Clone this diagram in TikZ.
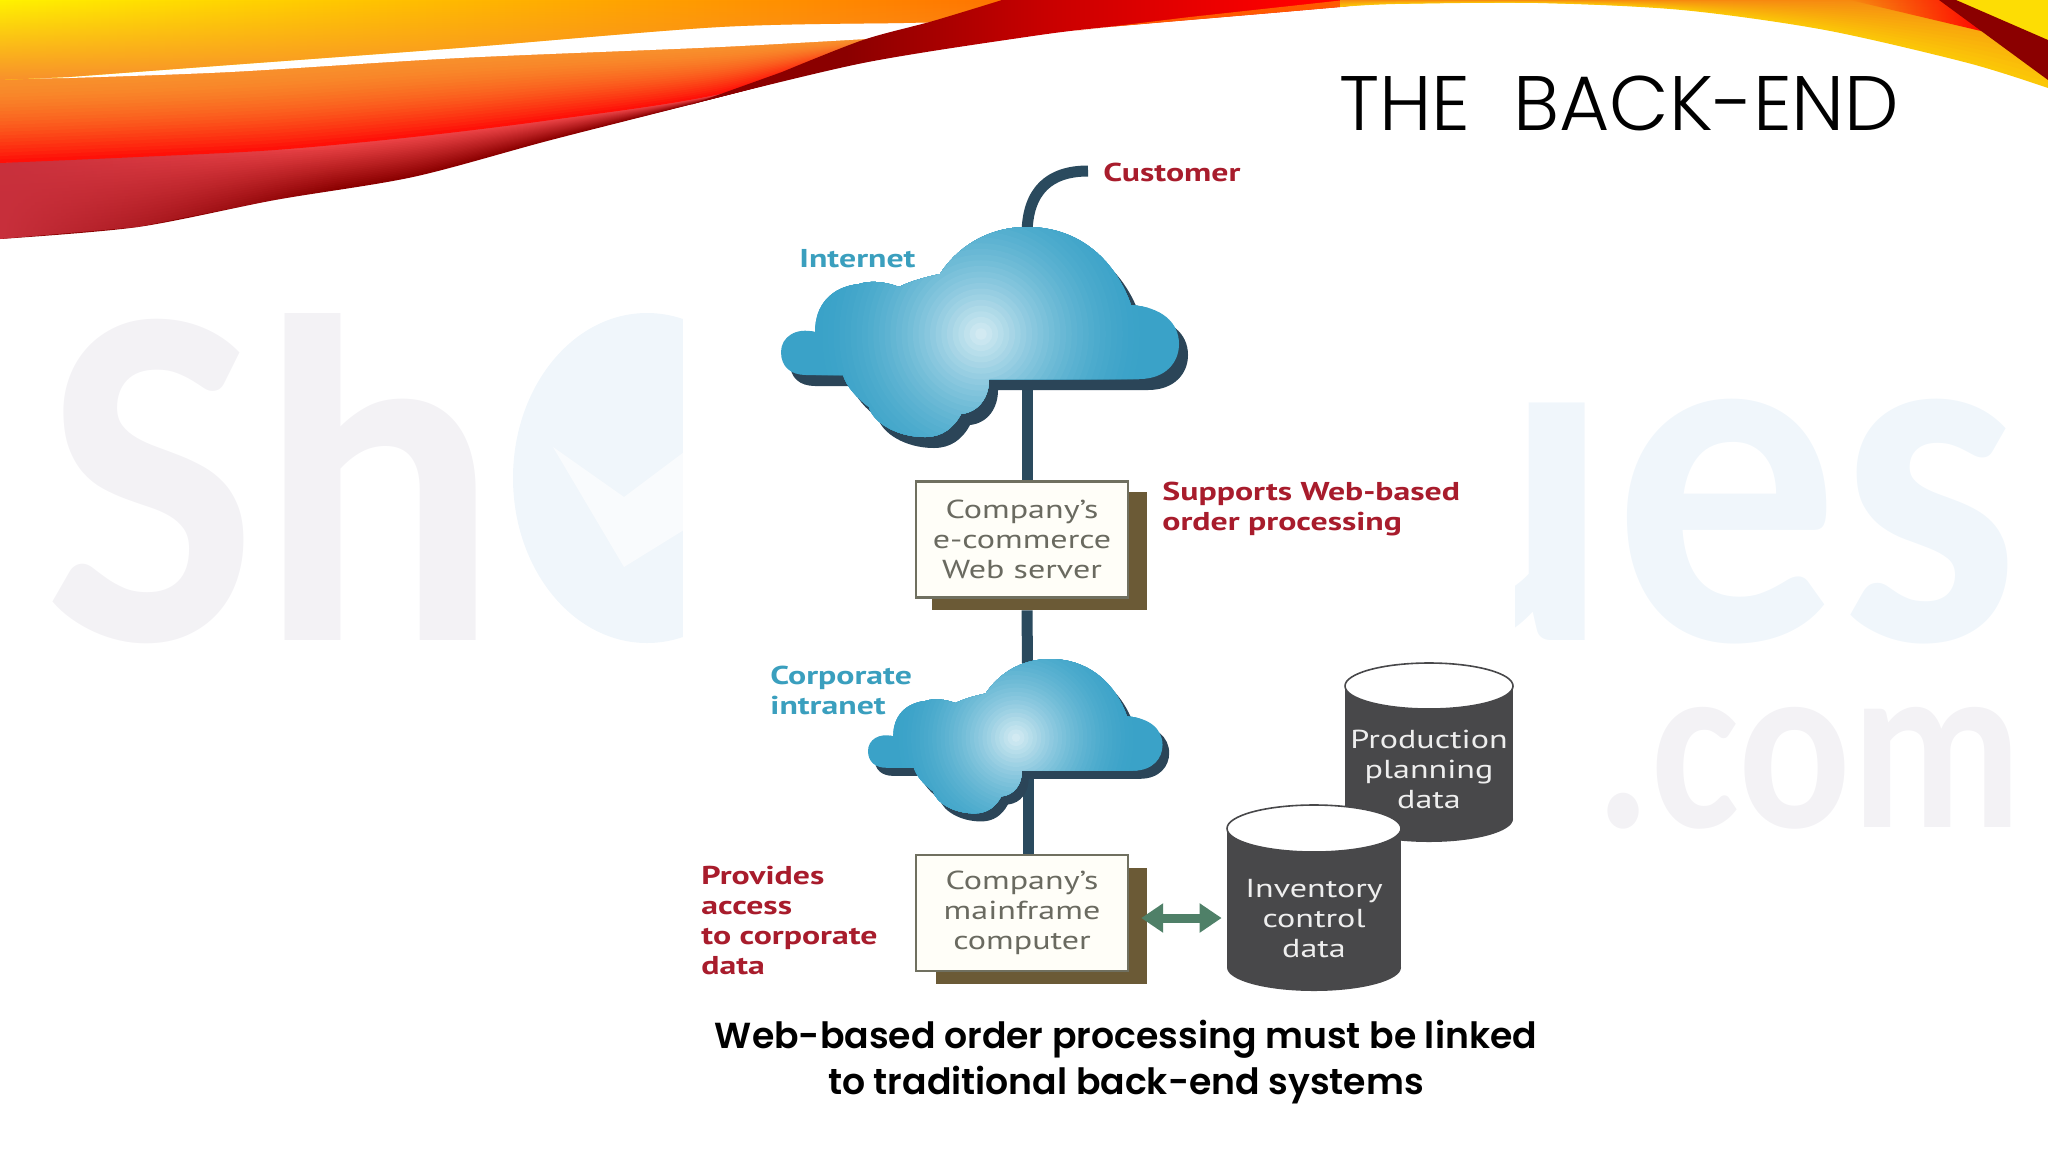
\documentclass[tikz,border=0pt]{standalone}
\usepackage{fontspec}
\usetikzlibrary{arrows.meta}
\usetikzlibrary{fadings}

\setmainfont{PT Sans}[FakeStretch=1.31]
\newfontfamily\titlefont{Poppins}[UprightFont=* Light]
\newfontfamily\captionfont{Poppins}[BoldFont=* SemiBold]
\newfontfamily\markfont{Carlito}[FakeStretch=.92]
\newfontfamily\marknarrow{Carlito}[FakeStretch=.86]

\definecolor{wirecol}{HTML}{2A4A5E}
\definecolor{cloudshade}{HTML}{2B4558}
\definecolor{cloudrim}{HTML}{3AA2C8}
\definecolor{cloudcore}{HTML}{DCEFF5}
\definecolor{labelred}{HTML}{A81C2C}
\definecolor{labelcyan}{HTML}{3A9FBE}
\definecolor{boxtext}{HTML}{6A6A60}
\definecolor{boxrim}{HTML}{707060}
\definecolor{boxfill}{HTML}{FFFEF8}
\definecolor{boxshade}{HTML}{6B5A36}
\definecolor{drumbody}{HTML}{48484A}
\definecolor{drumtext}{HTML}{EEEEEE}
\definecolor{linkgreen}{HTML}{4F8068}
\definecolor{markgrey}{HTML}{F3F2F5}
\definecolor{markblue}{HTML}{F0F6FB}
\definecolor{swdark}{HTML}{8B0000}
\definecolor{swrose}{HTML}{EF4548}
\definecolor{swlow}{HTML}{C8303C}
\definecolor{swred}{HTML}{FF1008}
\definecolor{sworange}{HTML}{F8902C}
\definecolor{swcross}{HTML}{C80000}

\pgfdeclarehorizontalshading{crossglow}{100bp}{
  color(0bp)=(swdark); color(36bp)=(swdark); color(50bp)=(swcross);
  color(68bp)=(red); color(100bp)=(red)}

\tikzset{
  wire/.style={draw=wirecol,line width=5.5pt},
  redlabel/.style={text=labelred,font=\fontsize{12.9}{15}\bfseries\selectfont,align=left,inner sep=0pt},
  cyanlabel/.style={text=labelcyan,font=\fontsize{12.9}{15}\bfseries\selectfont,align=left,inner sep=0pt},
  whitebox/.style={draw=boxrim,line width=1.2pt,fill=boxfill,minimum width=106pt,minimum height=58pt,
    text=boxtext,font=\fontsize{13}{15}\selectfont,align=center,inner sep=0pt},
  shadebox/.style={fill=boxshade,minimum width=106pt,minimum height=58pt,inner sep=0pt},
  drumlabel/.style={text=drumtext,font=\fontsize{13}{15}\selectfont,align=center,inner sep=0pt},
  markletters/.style={inner sep=0pt,anchor=base east}
}

\begin{document}
\begin{tikzpicture}[x=0.5pt,y=-0.5pt]
  \useasboundingbox (0,0) rectangle (2048,1152);

  % Cloud outline, in pixels from its top left corner
  \def\cloudoutline{
    (208,152) -- (358,152)
    .. controls (385,152) and (398,135) .. (398,117)
    .. controls (398,95) and (380,80) .. (350,78)
    .. controls (335,35) and (300,0) .. (246,0)
    .. controls (205,0) and (175,22) .. (159,47)
    .. controls (145,50) and (130,54) .. (118,60)
    .. controls (105,55) and (90,53) .. (78,57)
    .. controls (50,60) and (34,78) .. (34,105)
    .. controls (15,100) and (0,110) .. (0,125)
    .. controls (0,140) and (10,148) .. (25,148)
    -- (62,148)
    .. controls (66,160) and (75,170) .. (88,180)
    .. controls (92,195) and (115,210) .. (144,210)
    .. controls (160,210) and (172,202) .. (180,187)
    .. controls (198,185) and (208,170) .. (208,152) -- cycle}

  \def\backcloud at (#1,#2,#3,#4){
    \begin{scope}[shift={(#1,#2)},xscale=#3,yscale=#4]
      \fill[cloudshade,shift={(9,11)}] \cloudoutline;
      \fill[cloudrim] \cloudoutline;
      \begin{scope}
        \clip \cloudoutline;
        \foreach \n in {0,...,30}{
          \pgfmathsetmacro{\glowr}{170*(1-\n/30)}
          \pgfmathsetmacro{\pc}{100*(\n/30)^1.8}
          \fill[cloudcore!\pc!cloudrim] (200,107) ellipse (\glowr+.1 and \glowr+.1);
        }
      \end{scope}
    \end{scope}
  }

  % Centre x, half width, top and bottom ellipse centres, ellipse height
  \def\datadrum at (#1,#2,#3,#4,#5){
    \fill[drumbody] (#1,#4) ellipse (#2 and #5);
    \fill[drumbody] (#1-#2,#3) rectangle (#1+#2,#4);
    \draw[drumbody,line width=.8pt,fill=white] (#1,#3) ellipse (#2 and #5);
  }

  % Draw watermark
  \begin{scope}
    \clip (0,313) rectangle (683,660);
    \node[markletters,text=markgrey,font=\markfont\bfseries\fontsize{245}{245}\selectfont] (marksh) at (500,640) {Sh};
  \end{scope}
  \fill[markblue] (647,478) ellipse (134 and 165);
  \fill[white!60!markblue] (553,447) -- (624,497) -- (700,440) -- (700,520) -- (624,567) -- cycle;
  \node[markletters,text=markblue,font=\markfont\bfseries\fontsize{245}{245}\selectfont] (markues) at (2020,640) {ues};
  \node[markletters,text=markgrey,font=\marknarrow\bfseries\fontsize{122}{122}\selectfont] (markcom) at (2022,827) {.com};
  \fill[white] (683,150) rectangle (1515,1010);

  % Draw top left swoosh
  \foreach \n in {0,...,24}{
    \pgfmathsetmacro{\t}{1-\n/24}
    \pgfmathsetmacro{\pc}{100*\t}
    \fill[swdark!\pc!swrose] (0,0) -- plot[smooth] coordinates {
      (0,163+\t*76) (138,157+\t*70) (275,150+\t*50) (413,137+\t*40) (551,120+\t*20) (720,94+\t*3) (900,42+\t*8)}
      -- (900,0) -- cycle;
  }
  \begin{scope}
    \clip (0,163) -- (0,239) -- plot[smooth] coordinates {(138,227) (275,200) (413,177)} -- (413,137) -- cycle;
    \fill[swlow,path fading=east] (0,150) rectangle (340,245);
  \end{scope}
  \foreach \n in {0,...,24}{
    \pgfmathsetmacro{\t}{1-\n/24}
    \pgfmathsetmacro{\pc}{100*\t^1.6}
    \fill[swred!\pc!sworange] (0,0) -- plot[smooth] coordinates {
      (0,80+\t*83) (138,76+\t*81) (275,69+\t*81) (413,60+\t*77) (551,53+\t*67) (720,47+\t*47) (900,37+\t*5)}
      -- (900,0) -- cycle;
  }
  \fill[white] (0,0) -- (0,79) -- plot[smooth] coordinates {(69,78) (230,72) (459,58) (720,47) (900,37)}
    -- (950,0) -- cycle;
  \def\upperribbon{(0,0) -- (0,80)
    -- plot[smooth] coordinates {(69,77) (230,65) (459,48) (720,27) (904,23) (950,22)} -- (1010,0) -- cycle}
  \shade[left color=yellow!90!orange,right color=orange!90!red] \upperribbon;
  \fill[sworange,path fading=north] \upperribbon;

  % Draw dark crossing ribbon
  \shade[shading=crossglow]
    (690,105) -- plot[smooth] coordinates {(782,72) (863,40) (933,21) (1002,0)} -- (1400,0)
    -- plot[smooth] coordinates {(1340,7) (1271,13) (1108,27) (1026,37) (863,63) (700,102)} -- cycle;
  \fill[orange!70!red] (1075,31) -- (1190,17) -- (1345,0) -- (1395,0) -- (1340,7) -- (1271,13) -- (1108,27) -- cycle;

  % Draw top right swoosh
  \foreach \n in {0,...,16}{
    \pgfmathsetmacro{\t}{1-\n/16}
    \pgfmathsetmacro{\pc}{100*\t}
    \fill[yellow!60!orange!\pc!orange] (1340,0) -- plot[smooth] coordinates {
      (1340,7*\t) (1395,4*\t) (1538,3*\t) (1682,10*\t) (1825,30*\t) (1968,63*\t) (2048,88*\t)}
      -- (2048,0) -- cycle;
  }
  \fill[red,path fading=west] (1850,0) -- (1945,0) -- (1985,32) -- cycle;
  \fill[yellow!80!orange] (1950,0) -- (2048,0) -- (2048,45) -- cycle;
  \fill[swdark] (1939,0) -- (1956,0) -- (2048,40) -- (2048,80) -- cycle;

  % Draw title
  \node[anchor=base west,inner sep=0pt,font=\titlefont\fontsize{38.6}{39}\selectfont] (title) at (1339,130) {THE\hspace{.55em}BACK-END};

  \coordinate (customerend) at (1088,171);
  \coordinate (nettop) at (1027,235);
  \coordinate (netcloud) at (1027,350);
  \coordinate (intracloud) at (1028,720);

  % Draw shadow boxes
  \node[shadebox,minimum width=107.5pt,minimum height=59pt] (webshade) at (1039.5,551) {};
  \node[shadebox,minimum width=105.5pt,minimum height=58pt] (mainshade) at (1041.5,926) {};

  % Draw boxes
  \node[whitebox] (webbox) at (1022,539.5) {Company's\\e-commerce\\Web server};
  \node[whitebox] (mainbox) at (1022,913) {Company's\\mainframe\\computer};

  % Draw wires
  \draw[wire] (customerend) .. controls (1050,171) and (1027,190) .. (nettop);
  \draw[wire] (netcloud) -- (netcloud |- webbox.north);
  \draw[wire] (netcloud |- webshade.south) -- (intracloud);
  \draw[wire] (intracloud) -- (intracloud |- mainbox.north);

  % Draw clouds
  \backcloud at (781,227,1,1);
  \backcloud at (868,659,.74,.735);

  % Draw data stores
  \datadrum at (1429,84,686,819,23);
  \node[drumlabel] (prodlabel) at (1429,769) {Production\\planning\\data};
  \datadrum at (1314,87,828.5,967.5,23.5);
  \node[drumlabel,minimum width=87pt] (invlabel) at (1314,919) {Inventory\\control\\data};

  % Draw link
  \coordinate (linkstart) at ([shift={(6pt,-2.5pt)}]mainbox.east);
  \draw[draw=linkgreen,line width=4.5pt,shorten >=2.5pt,
    {Triangle[length=11pt,width=14pt]}-{Triangle[length=11pt,width=14pt]}]
    (linkstart) -- (linkstart -| invlabel.west);

  % Draw labels
  \node[redlabel,anchor=west] (customer) at (1103,172) {Customer};
  \node[cyanlabel,anchor=west] (internet) at (799,259) {Internet};
  \node[redlabel,anchor=west] (supports) at (1162,509) {Supports Web-based\\order processing};
  \node[cyanlabel,anchor=west] (corporate) at (770,690) {Corporate\\intranet};
  \node[redlabel,anchor=west] (provides) at (701,920) {Provides\\access\\to corporate\\data};

  % Draw caption
  \node[align=center,inner sep=0pt,font=\captionfont\bfseries\fontsize{18.1}{23}\selectfont] (caption) at (1126,1062)
    {Web-based order processing must be linked\\to traditional back-end systems};
\end{tikzpicture}
\end{document}
